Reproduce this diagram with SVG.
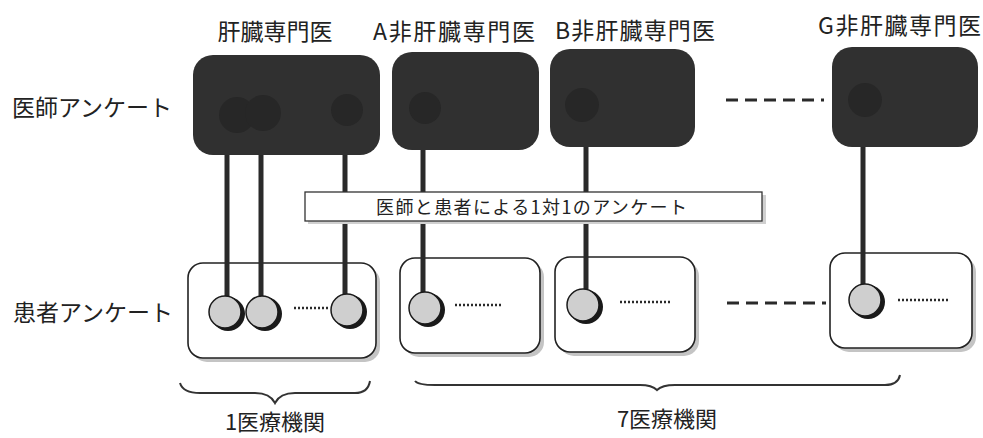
<svg xmlns="http://www.w3.org/2000/svg" width="983" height="438" viewBox="0 0 983 438">
<defs>
<style>
text{font-family:"Noto Sans CJK JP","Noto Sans",sans-serif;fill:#222;}
.lbl{font-size:23px;}
.doc{fill:#303030;}
.blob{fill:#272727;}
.pbox{fill:#fff;stroke:#222;stroke-width:1.6;}
.pshadow{fill:#c4c4c4;}
.pcirc{fill:#cfcfcf;stroke:#1a1a1a;stroke-width:1.5;}
.pcsh{fill:#1a1a1a;}
.conn{stroke:#2a2a2a;stroke-width:5;fill:none;}
.dash{stroke:#2a2a2a;stroke-width:3;stroke-dasharray:12,7;fill:none;}
.dots{stroke:#2a2a2a;stroke-width:2.5;stroke-dasharray:2,2;fill:none;}
.brace{stroke:#333;stroke-width:2;fill:none;}
</style>
</defs>
<rect width="983" height="438" fill="#fff"/>

<!-- row labels -->
<text class="lbl" x="12" y="116">医師アンケート</text>
<text class="lbl" x="13" y="321">患者アンケート</text>

<!-- doctor nodes -->
<g id="doc-hep">
<text class="lbl" x="275" y="40" text-anchor="middle">肝臓専門医</text>
<rect class="doc" x="193" y="55" width="187" height="100" rx="20"/>
<circle class="blob" cx="237" cy="115" r="18"/>
<circle class="blob" cx="263" cy="113" r="18"/>
<circle class="blob" cx="347" cy="110" r="16"/>
</g>
<g id="doc-a">
<text class="lbl" x="373" y="40" textLength="162" lengthAdjust="spacing">A非肝臓専門医</text>
<rect class="doc" x="392" y="52" width="147" height="98" rx="20"/>
<circle class="blob" cx="425" cy="108" r="16"/>
</g>
<g id="doc-b">
<text class="lbl" x="555" y="39" textLength="160" lengthAdjust="spacing">B非肝臓専門医</text>
<rect class="doc" x="550" y="49" width="145" height="98" rx="20"/>
<circle class="blob" cx="582" cy="105" r="17"/>
</g>
<g id="doc-g">
<text class="lbl" x="818" y="34" textLength="163" lengthAdjust="spacing">G非肝臓専門医</text>
<rect class="doc" x="832" y="47" width="146" height="100" rx="20"/>
<circle class="blob" cx="865" cy="100" r="17"/>
</g>

<!-- patient nodes (boxes) -->
<g id="pat-hep">
<rect class="pshadow" x="192" y="267" width="188" height="95" rx="15"/>
<rect class="pbox" x="188" y="263" width="188" height="95" rx="15"/>
</g>
<g id="pat-a">
<rect class="pshadow" x="404" y="262" width="140" height="95" rx="15"/>
<rect class="pbox" x="400" y="258" width="140" height="95" rx="15"/>
</g>
<g id="pat-b">
<rect class="pshadow" x="559" y="261" width="140" height="95" rx="15"/>
<rect class="pbox" x="555" y="257" width="140" height="95" rx="15"/>
</g>
<g id="pat-g">
<rect class="pshadow" x="834" y="257" width="142" height="95" rx="15"/>
<rect class="pbox" x="830" y="253" width="142" height="95" rx="15"/>
</g>

<!-- connectors -->
<g id="connectors">
<line class="conn" x1="227" y1="155" x2="227" y2="297"/>
<line class="conn" x1="261" y1="155" x2="261" y2="297"/>
<line class="conn" x1="345" y1="155" x2="345" y2="295"/>
<line class="conn" x1="423" y1="150" x2="423" y2="292"/>
<line class="conn" x1="586" y1="147" x2="586" y2="289"/>
<line class="conn" x1="863" y1="147" x2="863" y2="284"/>
<line class="dash" x1="726" y1="100" x2="824" y2="100"/>
<line class="dash" x1="727" y1="303" x2="826" y2="303"/>
</g>

<!-- patients (circles) -->
<g id="patients">
<circle class="pcsh" cx="228" cy="314" r="17"/>
<circle class="pcirc" cx="225" cy="312" r="16"/>
<circle class="pcsh" cx="265" cy="314" r="17"/>
<circle class="pcirc" cx="262" cy="312" r="16"/>
<line class="dots" x1="294" y1="308" x2="328" y2="308"/>
<circle class="pcsh" cx="350" cy="312" r="17"/>
<circle class="pcirc" cx="347" cy="310" r="16"/>

<circle class="pcsh" cx="428" cy="310" r="17"/>
<circle class="pcirc" cx="425" cy="308" r="16"/>
<line class="dots" x1="455" y1="305" x2="503" y2="305"/>

<circle class="pcsh" cx="586" cy="307" r="17"/>
<circle class="pcirc" cx="583" cy="305" r="16"/>
<line class="dots" x1="620" y1="302" x2="670" y2="302"/>

<circle class="pcsh" cx="868" cy="302" r="17"/>
<circle class="pcirc" cx="865" cy="300" r="16"/>
<line class="dots" x1="898" y1="300" x2="950" y2="300"/>
</g>

<!-- banner -->
<g id="banner">
<rect x="308" y="195" width="458" height="29" fill="#d0d0d0"/>
<rect x="305" y="192" width="457" height="29" fill="#fff" stroke="#333" stroke-width="1.3"/>
<text x="376" y="214" font-size="18" textLength="311" lengthAdjust="spacing">医師と患者による1対1のアンケート</text>
</g>

<!-- braces -->
<g id="brace-1">
<path class="brace" d="M180,383 Q183,393 200,393 L255,393 Q270,393 275,403 Q280,393 295,393 L355,393 Q368,393 370,381"/>
<text font-size="22" x="275" y="430" text-anchor="middle">1医療機関</text>
</g>
<g id="brace-7">
<path class="brace" d="M415,381 Q418,385 435,385 L640,385 Q652,385 657,390 Q662,385 675,385 L885,385 Q898,385 900,375"/>
<text font-size="22" x="667" y="427" text-anchor="middle">7医療機関</text>
</g>
</svg>
